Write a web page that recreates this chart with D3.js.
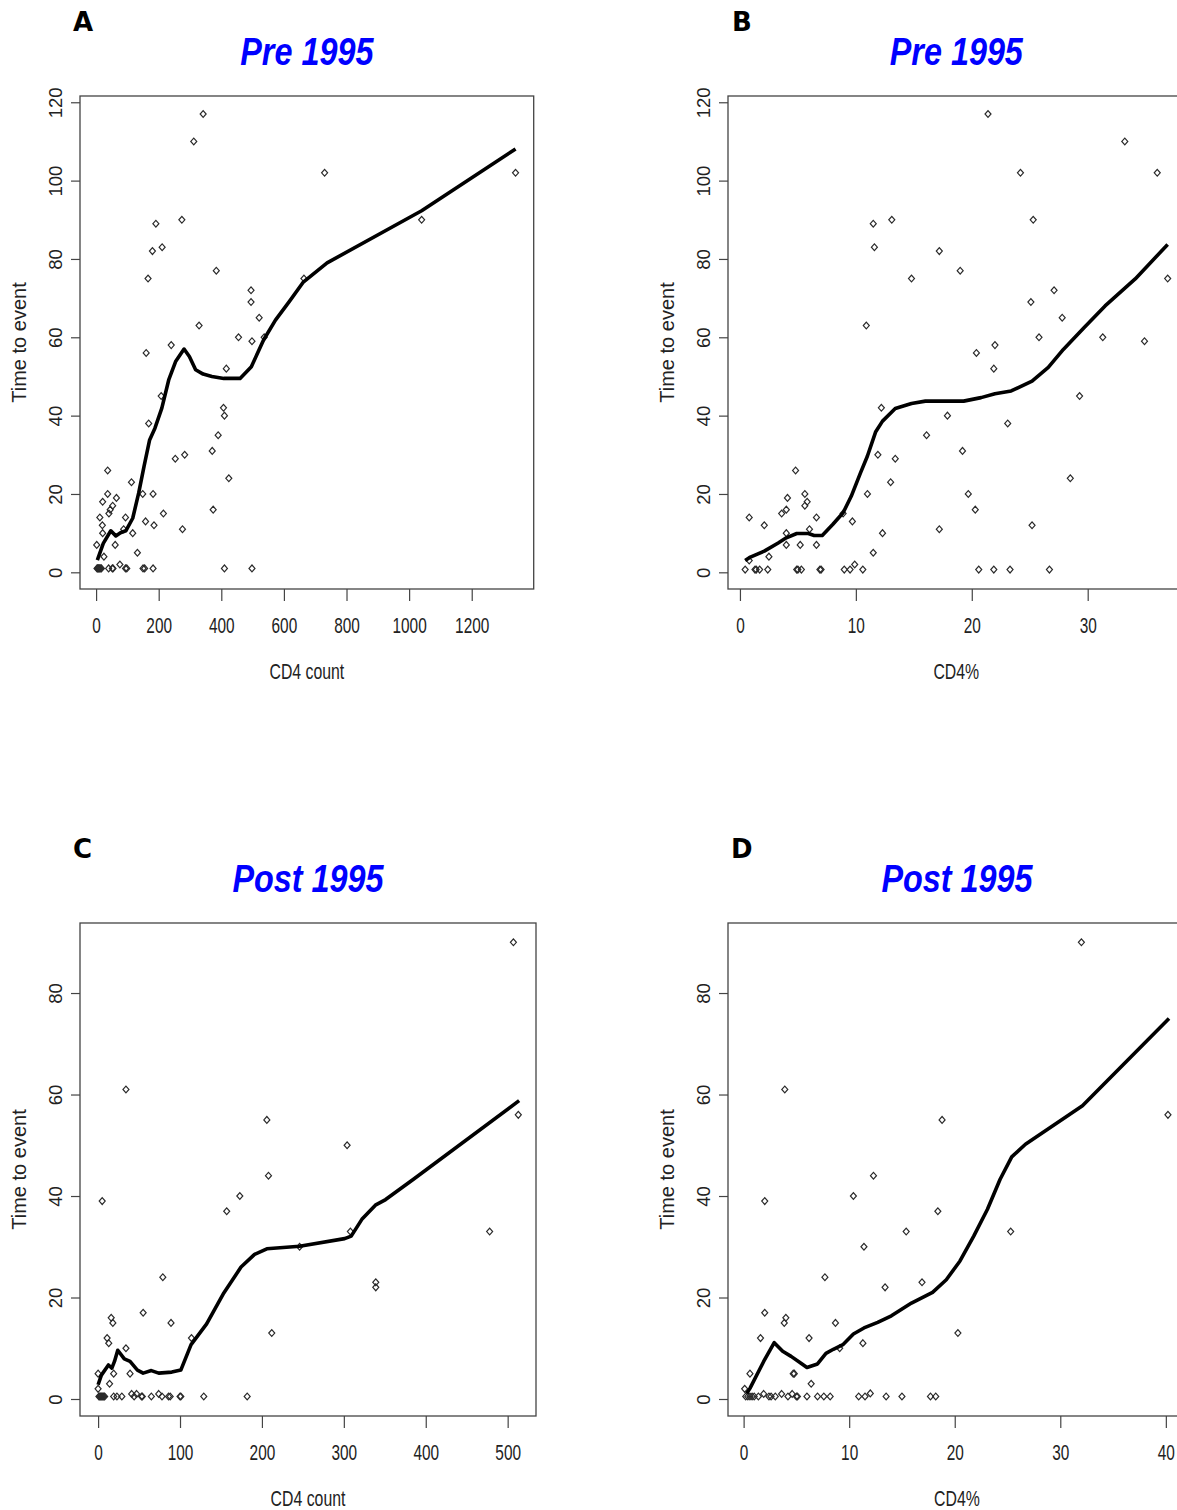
<!DOCTYPE html>
<html>
	<head>
		<meta charset="utf-8">
		<script src="https://d3js.org/d3.v7.min.js"></script>
		<style>
			body { margin: 0; background: #ffffff; }
		</style>
	</head>
	<body>
		<script>
			/* Panel A: Pre 1995, time to event against CD4 count */
			var preCountX = [342,312,730,1340,191,274,1040,180,211,166,384,664,495,495,521,455,498,537,329,240,160,416,208,407,410,390,168,371,253,283,424,374,276,37,37,21,65,53,45,41,12,94,113,149,182,215,158,185,20,21,117,88,61,2,25,132,76,
				3,5,7,9,11,14,17,40,52,54,94,98,150,155,182,410,498];
			var preCountY = [117,110,102,102,89,90,90,82,83,75,77,75,72,69,65,60,59,60,63,58,56,52,45,42,40,35,38,31,29,30,24,16,11,26,20,18,19,17,16,15,14,14,23,20,20,15,13,12,12,10,10,11,7,7,4,5,2,
				1,1,1,1,1,1,1,1,1,1,1,1,1,1,1,1,1];
			var preCountFitX = [4,23,47,63,78,95,117,136,153,171,188,210,232,254,281,298,318,342,370,408,460,496,535,573,617,661,738,1040,1340];
			var preCountFitY = [3.1,7.4,10.6,9.3,10.1,10.6,13.8,20.2,27,33.8,36.8,41.9,49.1,53.8,57,55.1,51.7,50.6,50,49.5,49.5,52.5,59.3,64.4,69.1,74,79,92.3,108.1];

			/* Panel B: Pre 1995, time to event against CD4% */
			var prePctX = [21.4,33.2,24.2,36,11.5,13.1,25.3,11.6,17.2,14.8,19,36.9,27.1,25.1,27.8,10.9,25.8,31.3,34.9,20.4,22,21.9,29.3,12.2,17.9,23.1,16.1,19.2,11.9,13.4,13,28.5,4.8,5.6,11,19.7,4.1,5.8,5.6,4,20.3,3.6,8.9,0.8,6.6,9.7,2.1,25.2,6,17.2,4,12.3,4,5.2,6.6,11.5,2.5,0.8,9.9,
				0.45,1.3,1.4,1.7,2.4,4.9,5,5.3,6.9,7,9,9.5,10.6,20.6,21.9,23.3,26.7];
			var prePctY = [117,110,102,102,89,90,90,83,82,75,77,75,72,69,65,63,60,60,59,56,58,52,45,42,40,38,35,31,30,29,23,24,26,20,20,20,19,18,17,16,16,15,15,14,14,13,12,12,11,11,10,10,7,7,7,5,4,3,2,
				0.7,0.7,0.7,0.7,0.7,0.7,0.7,0.7,0.7,0.7,0.7,0.7,0.7,0.7,0.7,0.7,0.7];
			var prePctFitX = [0.45,0.9,2.1,3.3,4,4.9,5.9,6.4,7.1,8,8.9,9.6,10.4,11,11.7,12.3,13.4,14.8,16,19.3,20.8,22,23.4,25.2,26.6,27.9,29.7,31.5,34.1,36.9];
			var prePctFitY = [3,3.9,5.4,7.5,8.8,9.9,9.9,9.4,9.4,12.2,15.2,19.4,25.4,29.7,35.8,38.6,41.8,43.1,43.7,43.7,44.6,45.6,46.3,48.8,52.3,56.9,62.5,68,74.9,83.7];

			/* Panel C: Post 1995, time to event against CD4 count */
			var postCountX = [507,34,513,206,304,208,173,5,157,478,308,246,339,339,79,55,89,16,18,212,11,13,114,34,0,19,39,14,0,74,41,47,
				1,2,3,4,5,6,7,8,19,23,29,44,53,54,65,78,86,88,100,101,129,182];
			var postCountY = [90,61,56,55,50,44,40,39,37,33,33,30,23,22,24,17,15,16,15,13,12,11,12,10,5,5,5,3,2,1,1,1,
				0.5,0.5,0.5,0.5,0.5,0.5,0.5,0.5,0.5,0.5,0.5,0.5,0.5,0.5,0.5,0.5,0.5,0.5,0.5,0.5,0.5,0.5];
			var postCountFitX = [0,4,12.6,16.8,20,24,32,39,48,55,65,74,90,101,113.5,132.5,153.5,174.5,191,206,246,301,309,322,338.5,351,385,514];
			var postCountFitY = [2.8,4.7,6.7,6.1,7.4,9.6,7.9,7.4,5.7,5.1,5.6,5.1,5.3,5.7,10.7,14.8,20.9,26,28.5,29.6,30.1,31.6,32.1,35.4,38.2,39.3,43.3,58.8];

			/* Panel D: Post 1995, time to event against CD4% */
			var postPctX = [32,3.9,40.2,18.8,12.3,10.4,2,18.4,15.4,25.3,11.4,16.9,13.4,7.7,2,4,3.85,8.7,20.3,1.6,6.2,11.3,9.1,0.6,4.8,4.7,6.4,0.1,1.9,3.6,4.6,12,
				0.2,0.4,0.6,0.8,1,1.4,2.4,2.6,3,4.2,5,5.1,6,7,7.6,8.2,10.9,11.5,13.5,15,17.7,18.2];
			var postPctY = [90,61,56,55,44,40,39,37,33,33,30,23,22,24,17,16,15,15,13,12,12,11,10,5,5,5,3,2,1,1,1,1.1,
				0.5,0.5,0.5,0.5,0.5,0.5,0.5,0.5,0.5,0.5,0.5,0.5,0.5,0.5,0.5,0.5,0.5,0.5,0.5,0.5,0.5,0.5];
			var postPctFitX = [0.3,0.6,1.9,2.9,3.7,4.5,5.4,6,7,7.8,8.5,9.4,10.4,11.4,12.7,14,15.9,17.9,19.2,20.5,21.8,23.1,24.3,25.4,26.7,32.1,40.3];
			var postPctFitY = [1.1,2.1,7.4,11.1,9.4,8.4,7.1,6.2,6.9,9,9.8,10.7,12.8,14,15.1,16.4,18.9,21,23.5,27.2,32.1,37.4,43.3,47.7,50.2,57.8,75];

			/* Tick values */
			var xTicksPreCount = [0,200,400,600,800,1000,1200];
			var xTicksPrePct = [0,10,20,30];
			var xTicksPostCount = [0,100,200,300,400,500];
			var xTicksPostPct = [0,10,20,30,40];
			var yTicksPre = [0,20,40,60,80,100,120];
			var yTicksPost = [0,20,40,60,80];

			var font = "'Liberation Sans', Arial, sans-serif";

			var svg = d3.select("body").append("svg")
				.attr("width", 1177)
				.attr("height", 1510)
				.style("display", "block");

			/* Draws one panel: box, axes, points, smooth line and texts */
			function panel(p){
				var g = svg.append("g");

				var x = d3.scaleLinear().domain(p.xDom).range([p.l, p.r]);
				var y = d3.scaleLinear().domain(p.yDom).range([p.b, p.t]);

				/* Points as small open diamonds */
				g.selectAll("path.pt")
					.data(d3.zip(p.xs, p.ys))
					.enter()
					.append("path")
					.attr("class", "pt")
					.attr("d", function(d){
						var cx = x(d[0]), cy = y(d[1]);
						return "M" + cx + "," + (cy - 3.4) + "L" + (cx + 3) + "," + cy +
							"L" + cx + "," + (cy + 3.4) + "L" + (cx - 3) + "," + cy + "Z";
					})
					.attr("fill", "none")
					.attr("stroke", "#2a2a2a")
					.attr("stroke-width", 1.2);

				/* Smooth line */
				var line = d3.line()
					.x(function(d){ return x(d[0]); })
					.y(function(d){ return y(d[1]); });
				g.append("path")
					.datum(d3.zip(p.fx, p.fy))
					.attr("d", line)
					.attr("fill", "none")
					.attr("stroke", "#000")
					.attr("stroke-width", 3.6)
					.attr("stroke-linejoin", "round");

				/* Box */
				g.append("rect")
					.attr("x", p.l).attr("y", p.t)
					.attr("width", p.r - p.l).attr("height", p.b - p.t)
					.attr("fill", "none")
					.attr("stroke", "#444")
					.attr("stroke-width", 1.3);

				/* Bottom axis */
				var gx = g.append("g")
					.attr("transform", "translate(0," + p.b + ")")
					.call(d3.axisBottom(x).tickValues(p.xTicks).tickSize(12).tickSizeOuter(0).tickFormat(d3.format("d")));
				gx.select(".domain").remove();
				gx.attr("font-family", font).attr("font-size", 22);
				gx.selectAll("line").attr("stroke", "#444").attr("stroke-width", 1.2);
				gx.selectAll("text")
					.attr("y", null).attr("dy", null)
					.attr("fill", "#222")
					.attr("transform", "translate(0,44) scale(0.7,1)");

				/* Left axis */
				var gy = g.append("g")
					.attr("transform", "translate(" + p.l + ",0)")
					.call(d3.axisLeft(y).tickValues(p.yTicks).tickSize(9).tickSizeOuter(0).tickFormat(d3.format("d")));
				gy.select(".domain").remove();
				gy.attr("font-family", font).attr("font-size", 18.5);
				gy.selectAll("line").attr("stroke", "#444").attr("stroke-width", 1.2);
				gy.selectAll("text")
					.attr("x", null).attr("dy", null)
					.attr("text-anchor", "middle")
					.attr("fill", "#222")
					.attr("transform", "translate(-18.5,0) rotate(-90)");

				var cx = (p.l + p.r) / 2, cy = (p.t + p.b) / 2;

				/* Axis titles */
				g.append("text")
					.attr("transform", "translate(" + cx + "," + (p.b + 90) + ") scale(0.72,1)")
					.attr("text-anchor", "middle")
					.attr("font-family", font)
					.attr("font-size", 22)
					.attr("fill", "#222")
					.text(p.xLabel);

				g.append("text")
					.attr("transform", "translate(" + (p.l - 54.5) + "," + cy + ") rotate(-90)")
					.attr("text-anchor", "middle")
					.attr("font-family", font)
					.attr("font-size", 20)
					.attr("fill", "#222")
					.text("Time to event");

				/* Panel title */
				g.append("text")
					.attr("transform", "translate(" + cx + "," + (p.t - 31) + ") scale(0.83,1)")
					.attr("text-anchor", "middle")
					.attr("font-family", font)
					.attr("font-size", 39)
					.attr("font-weight", "bold")
					.attr("font-style", "italic")
					.attr("fill", "#0000ff")
					.text(p.title);

				/* Panel letter */
				g.append("text")
					.attr("x", p.lx).attr("y", p.t - 65)
					.attr("font-family", "'DejaVu Sans', Verdana, sans-serif")
					.attr("font-size", 26)
					.attr("font-weight", "bold")
					.attr("fill", "#000")
					.text(p.letter);
			}

			panel({ letter: "A", title: "Pre 1995", xLabel: "CD4 count",
				xs: preCountX, ys: preCountY, fx: preCountFitX, fy: preCountFitY,
				xTicks: xTicksPreCount, yTicks: yTicksPre,
				xDom: [-51.4, 1398], yDom: [-4.26, 121.6],
				l: 80, r: 533.7, t: 96, b: 589, lx: 73 });

			panel({ letter: "B", title: "Pre 1995", xLabel: "CD4%",
				xs: prePctX, ys: prePctY, fx: prePctFitX, fy: prePctFitY,
				xTicks: xTicksPrePct, yTicks: yTicksPre,
				xDom: [-1.03, 38.36], yDom: [-4.26, 121.6],
				l: 728, r: 1184.6, t: 96, b: 589, lx: 732 });

			panel({ letter: "C", title: "Post 1995", xLabel: "CD4 count",
				xs: postCountX, ys: postCountY, fx: postCountFitX, fy: postCountFitY,
				xTicks: xTicksPostCount, yTicks: yTicksPost,
				xDom: [-22.1, 534.6], yDom: [-3.35, 93.8],
				l: 80, r: 536, t: 923, b: 1416, lx: 73 });

			panel({ letter: "D", title: "Post 1995", xLabel: "CD4%",
				xs: postPctX, ys: postPctY, fx: postPctFitX, fy: postPctFitY,
				xTicks: xTicksPostPct, yTicks: yTicksPost,
				xDom: [-1.48, 41.9], yDom: [-3.35, 93.8],
				l: 728, r: 1185.9, t: 923, b: 1416, lx: 731 });
		</script>
	</body>
</html>
